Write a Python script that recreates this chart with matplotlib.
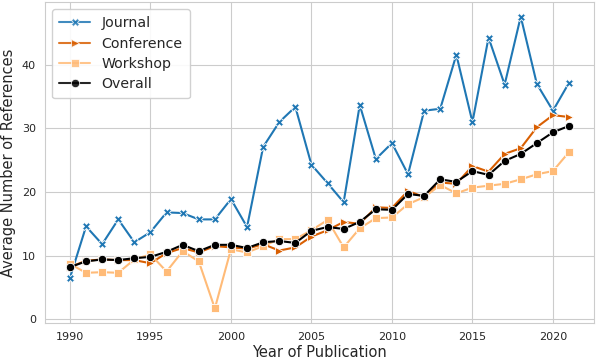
import matplotlib
matplotlib.use("Agg")
import matplotlib.pyplot as plt
import seaborn as sns

# ── data ──────────────────────────────────────────────────────────────────────
years = list(range(1990, 2022))

journal = [6.5, 14.6, 11.8, 15.7, 12.1, 13.7, 16.8, 16.7, 15.7, 15.7,
           18.9, 14.5, 27.1, 31.0, 33.4, 24.3, 21.4, 18.4, 33.7, 25.2,
           27.7, 22.8, 32.8, 33.1, 41.6, 31.0, 44.3, 36.9, 47.6, 37.0,
           32.8, 37.2]

conference = [8.2, 9.2, 9.4, 9.3, 9.3, 8.8, 10.4, 11.2, 10.5, 11.5,
              11.3, 11.1, 11.8, 10.8, 11.3, 13.0, 14.0, 15.3, 15.0, 17.6,
              17.5, 20.2, 19.2, 21.5, 21.3, 24.1, 23.2, 26.0, 26.9, 30.2,
              32.1, 31.8]

workshop = [8.7, 7.3, 7.4, 7.3, 9.4, 10.2, 7.5, 10.7, 9.1, 1.7,
            11.0, 10.5, 11.5, 12.6, 12.6, 14.0, 15.6, 11.3, 14.3, 15.9,
            16.0, 18.1, 19.2, 21.1, 19.8, 20.7, 21.0, 21.3, 22.0, 22.8,
            23.3, 26.3]

overall = [8.2, 9.1, 9.4, 9.3, 9.6, 9.8, 10.6, 11.7, 10.7, 11.7,
           11.7, 11.2, 12.1, 12.3, 12.0, 13.9, 14.5, 14.2, 15.3, 17.3,
           17.2, 19.7, 19.4, 22.0, 21.6, 23.3, 22.7, 24.9, 26.0, 27.7,
           29.4, 30.4]

# ── style ─────────────────────────────────────────────────────────────────────
sns.set_style("whitegrid")
plt.rcParams["font.family"] = ["DejaVu Sans"]

series_cfg = [
    (journal,    "Journal",    "#1f77b4", "X"),
    (conference, "Conference", "#d95f02", ">"),
    (workshop,   "Workshop",   "#ffbb78", "s"),
    (overall,    "Overall",    "black",   "o"),
]

fig, ax = plt.subplots(figsize=(5.96, 3.6), dpi=100)
fig.subplots_adjust(left=45 / 596, right=594 / 596, top=1 - 2 / 360, bottom=1 - 323 / 360)

for values, name, color, marker in series_cfg:
    ax.plot(
        years, values,
        color=color,
        marker=marker,
        markersize=6,
        markeredgecolor="white",
        markeredgewidth=0.6,
        linewidth=1.5,
        label=name,
    )

ax.set_xlabel("Year of Publication", fontsize=10.5, labelpad=2)
ax.set_ylabel("Average Number of References", fontsize=10.5, labelpad=4)
ax.tick_params(labelsize=8, pad=3)
ax.set_yticks([0, 10, 20, 30, 40])

leg = ax.legend(loc="upper left", fontsize=10.2, framealpha=0.9,
                handlelength=2.2, borderpad=0.5, labelspacing=0.45)
for line in leg.get_lines():
    line.set_alpha(0.85)

fig.savefig("out.png", dpi=100, facecolor="white")
